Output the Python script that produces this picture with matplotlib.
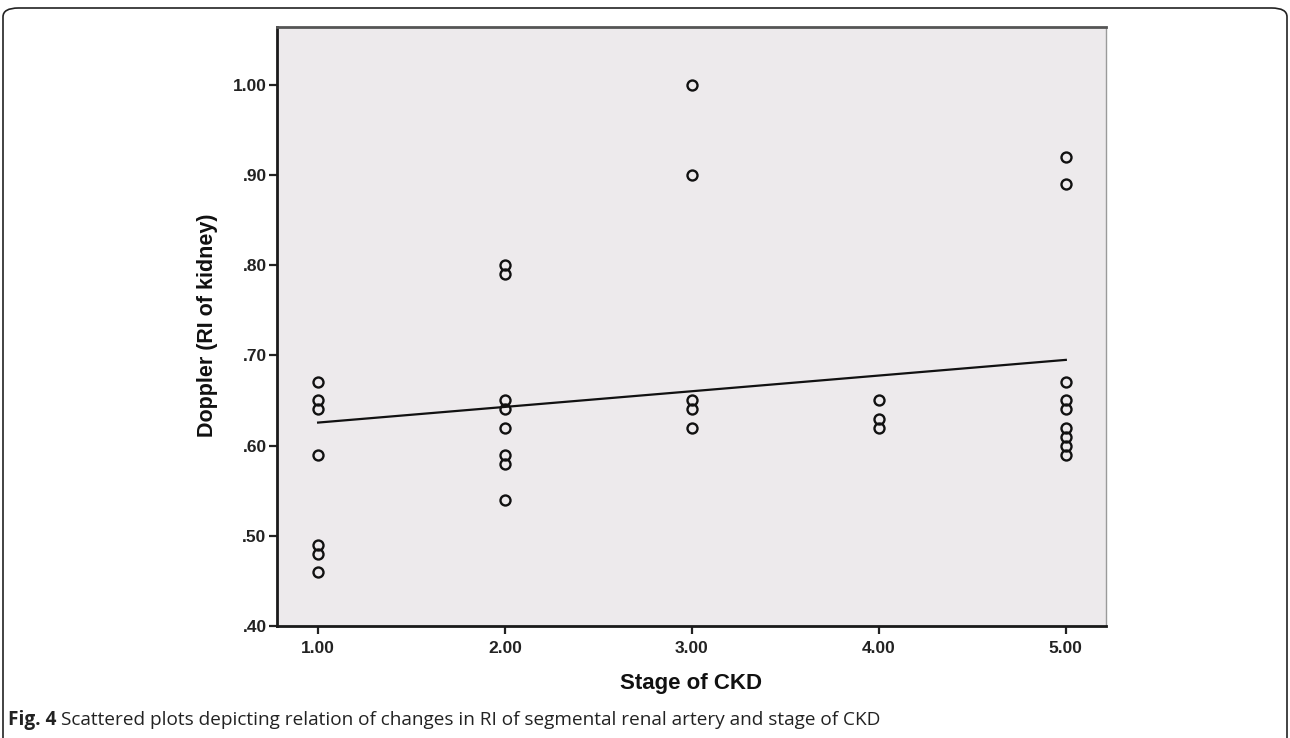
import matplotlib
matplotlib.use("Agg")
import matplotlib.pyplot as plt
from matplotlib.patches import FancyBboxPatch

# ---- data ----
stage1 = [0.67, 0.65, 0.64, 0.59, 0.49, 0.48, 0.46]
stage2 = [0.80, 0.79, 0.65, 0.64, 0.62, 0.59, 0.58, 0.54]
stage3 = [1.00, 0.90, 0.65, 0.64, 0.62]
stage4 = [0.65, 0.63, 0.62]
stage5 = [0.92, 0.89, 0.67, 0.65, 0.64, 0.62, 0.61, 0.60, 0.59]
stages = [1, 2, 3, 4, 5]
fit_x = [1.0, 5.0]
fit_y = [0.6255, 0.695]
xticks = [1, 2, 3, 4, 5]
xticklabels = ["1.00", "2.00", "3.00", "4.00", "5.00"]
yticks = [0.40, 0.50, 0.60, 0.70, 0.80, 0.90, 1.00]
yticklabels = [".40", ".50", ".60", ".70", ".80", ".90", "1.00"]

W, H = 1290, 738
fig = plt.figure(figsize=(W / 100, H / 100), dpi=100)
fig.patch.set_facecolor("white")

# outer rounded frame (bottom edge off canvas)
frame = FancyBboxPatch((3 / W, -30 / H), (W - 6) / W, (H - 8 + 30) / H,
                       boxstyle="round,pad=0,rounding_size=0.012",
                       transform=fig.transFigure, fill=False,
                       edgecolor="#222222", linewidth=1.2)
fig.patches.append(frame)

left, right, top, bottom = 277, 1106, 27, 626
aw, ah = right - left, bottom - top
ax = fig.add_axes([left / W, (H - bottom) / H, aw / W, ah / H])
ax.set_facecolor("#EDEAEC")

all_groups = [stage1, stage2, stage3, stage4, stage5]
for s, vals in zip(stages, all_groups):
    ax.plot([s] * len(vals), vals, linestyle="none", marker="o",
            markersize=7.2, markerfacecolor="none", markeredgecolor="#111111",
            markeredgewidth=1.7, zorder=3)

ax.plot(fit_x, fit_y, color="#111111", linewidth=1.6, zorder=2)

ax.set_xlim(0.78, 5.215)
ax.set_ylim(0.40, 1.064)
ax.set_xticks(xticks)
ax.set_xticklabels(xticklabels)
ax.set_yticks(yticks)
ax.set_yticklabels(yticklabels)

for lab in ax.get_xticklabels() + ax.get_yticklabels():
    lab.set_fontfamily("Liberation Sans")
    lab.set_fontweight("bold")
    lab.set_fontsize(12.5)
    lab.set_color("#222222")
ax.tick_params(axis="both", direction="out", length=6, width=1.6, color="#222222")
ax.tick_params(axis="x", pad=5)
ax.tick_params(axis="y", pad=1.5)

for side in ["left", "bottom"]:
    ax.spines[side].set_color("#1a1a1a")
    ax.spines[side].set_linewidth(2.0)
ax.spines["top"].set_color("#555555")
ax.spines["top"].set_linewidth(2.0)
ax.spines["right"].set_color("#9a9a9a")
ax.spines["right"].set_linewidth(1.0)

ax.set_xlabel("Stage of CKD", fontfamily="Liberation Sans", fontweight="bold",
              fontsize=16, color="#111111")
ax.set_ylabel("Doppler (RI of kidney)", fontfamily="Liberation Sans", fontweight="bold",
              fontsize=15.5, color="#111111")
ax.xaxis.set_label_coords((691 - left) / aw, (bottom - 673) / ah)
ax.yaxis.set_label_coords((218 - left) / aw, (bottom - 325) / ah)

# caption
cy = 1 - 720 / H
t1 = fig.text(8 / W, cy, "Fig. 4", fontfamily="Open Sans", fontweight="bold",
              fontsize=13.7, va="center", ha="left", color="#222222")
fig.canvas.draw()
bb = t1.get_window_extent(renderer=fig.canvas.get_renderer())
fig.text((bb.x1 + 5) / W, cy,
         "Scattered plots depicting relation of changes in RI of segmental renal artery and stage of CKD",
         fontfamily="Open Sans", fontsize=13.7, va="center", ha="left", color="#222222")

fig.savefig("out.png", dpi=100)
